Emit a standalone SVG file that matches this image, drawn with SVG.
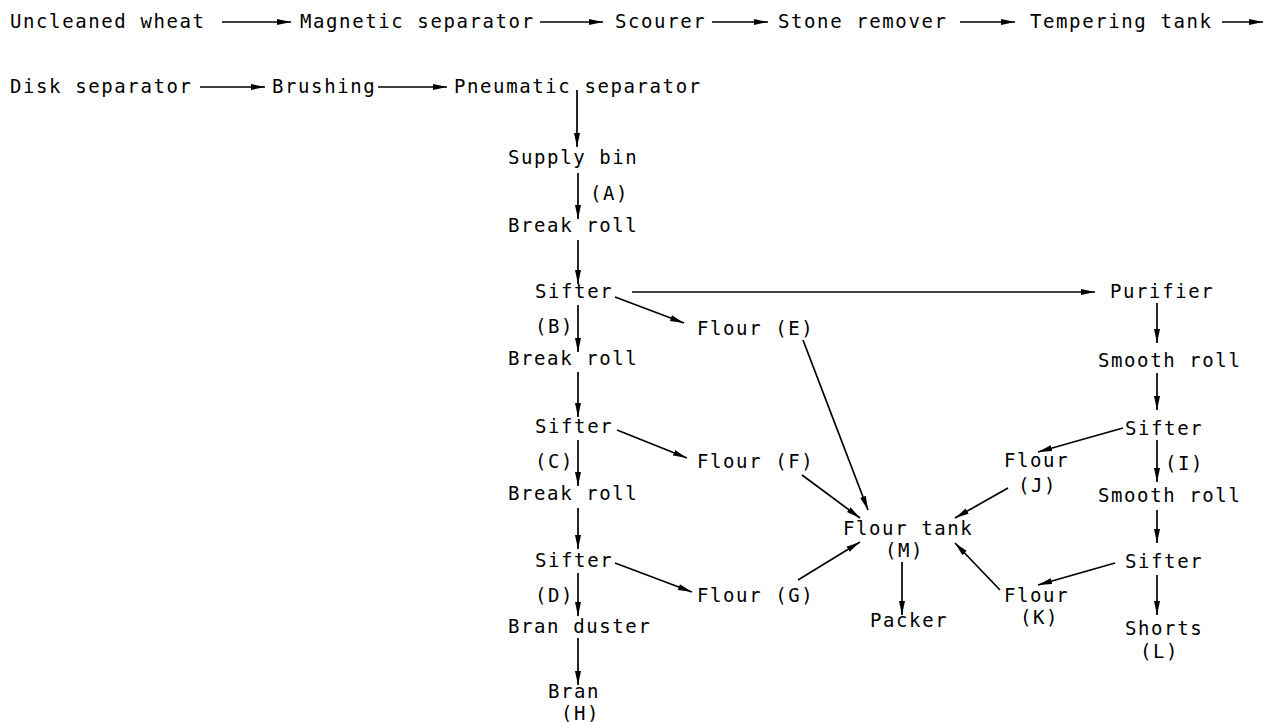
<svg xmlns="http://www.w3.org/2000/svg" width="1270" height="722" viewBox="0 0 1270 722">
<style>
text{font-family:"DejaVu Sans Mono","Liberation Mono",monospace;font-size:19px;letter-spacing:1.6px;fill:#000}
.c line{stroke:#000;stroke-width:1.7;fill:none}
.a{marker-end:url(#ah)}
</style>
<defs>
<marker id="ah" markerUnits="userSpaceOnUse" markerWidth="16" markerHeight="8" refX="14" refY="4" orient="auto">
<path d="M0,1 L14,4 L0,7 z" fill="#000"/>
</marker>
</defs>
<rect width="1270" height="722" fill="#fff"/>
<g id="n-uncleaned"><text x="10" y="28">Uncleaned wheat</text></g>
<g id="n-magnetic"><text x="300" y="28">Magnetic separator</text></g>
<g id="n-scourer"><text x="615" y="28">Scourer</text></g>
<g id="n-stone"><text x="778" y="28">Stone remover</text></g>
<g id="n-tempering"><text x="1030" y="28">Tempering tank</text></g>
<g id="n-disk"><text x="10" y="93">Disk separator</text></g>
<g id="n-brushing"><text x="272" y="93">Brushing</text></g>
<g id="n-pneumatic"><text x="454" y="93">Pneumatic separator</text></g>
<g id="n-supply"><text x="508" y="164">Supply bin</text></g>
<g id="n-break1"><text x="508" y="232">Break roll</text></g>
<g id="n-sifter1"><text x="535" y="298">Sifter</text></g>
<g id="n-break2"><text x="508" y="365">Break roll</text></g>
<g id="n-sifter2"><text x="535" y="433">Sifter</text></g>
<g id="n-break3"><text x="508" y="500">Break roll</text></g>
<g id="n-sifter3"><text x="535" y="567">Sifter</text></g>
<g id="n-branduster"><text x="508" y="633">Bran duster</text></g>
<g id="n-bran"><text x="548" y="698">Bran</text><text x="561" y="720">(H)</text></g>
<g id="n-flourE"><text x="697" y="335">Flour (E)</text></g>
<g id="n-flourF"><text x="697" y="468">Flour (F)</text></g>
<g id="n-flourG"><text x="697" y="602">Flour (G)</text></g>
<g id="n-tank"><text x="843" y="535">Flour tank</text><text x="885" y="557">(M)</text></g>
<g id="n-packer"><text x="870" y="627">Packer</text></g>
<g id="n-purifier"><text x="1110" y="298">Purifier</text></g>
<g id="n-smooth1"><text x="1098" y="367">Smooth roll</text></g>
<g id="n-sifter4"><text x="1125" y="435">Sifter</text></g>
<g id="n-flourJ"><text x="1004" y="467">Flour</text><text x="1018" y="492">(J)</text></g>
<g id="n-smooth2"><text x="1098" y="502">Smooth roll</text></g>
<g id="n-sifter5"><text x="1125" y="568">Sifter</text></g>
<g id="n-flourK"><text x="1004" y="602">Flour</text><text x="1020" y="624">(K)</text></g>
<g id="n-shorts"><text x="1125" y="635">Shorts</text><text x="1140" y="658">(L)</text></g>
<g id="labels">
<text x="590" y="200">(A)</text>
<text x="535" y="333">(B)</text>
<text x="535" y="468">(C)</text>
<text x="535" y="602">(D)</text>
<text x="1165" y="470">(I)</text>
</g>
<g id="connectors" class="c">
<line class="a" x1="222" y1="22" x2="291" y2="22"/>
<line class="a" x1="540" y1="22" x2="603" y2="22"/>
<line class="a" x1="712" y1="22" x2="768" y2="22"/>
<line class="a" x1="960" y1="22" x2="1015" y2="22"/>
<line class="a" x1="1222" y1="22" x2="1263" y2="22"/>
<line class="a" x1="200" y1="87" x2="265" y2="87"/>
<line class="a" x1="378" y1="87" x2="447" y2="87"/>
<line class="a" x1="577" y1="90" x2="577" y2="147"/>
<line class="a" x1="578" y1="173" x2="578" y2="219"/>
<line class="a" x1="578" y1="240" x2="578" y2="284"/>
<line class="a" x1="578" y1="305" x2="578" y2="352"/>
<line class="a" x1="578" y1="372" x2="578" y2="417"/>
<line class="a" x1="578" y1="440" x2="578" y2="486"/>
<line class="a" x1="578" y1="508" x2="578" y2="549"/>
<line class="a" x1="578" y1="573" x2="578" y2="616"/>
<line class="a" x1="578" y1="638" x2="578" y2="685"/>
<line class="a" x1="632" y1="292" x2="1095" y2="292"/>
<line class="a" x1="615" y1="297" x2="684" y2="323"/>
<line class="a" x1="617" y1="430" x2="687" y2="458"/>
<line class="a" x1="615" y1="563" x2="692" y2="592"/>
<line class="a" x1="803" y1="340" x2="868" y2="510"/>
<line class="a" x1="802" y1="475" x2="860" y2="518"/>
<line class="a" x1="798" y1="580" x2="860" y2="542"/>
<line class="a" x1="902" y1="562" x2="902" y2="615"/>
<line class="a" x1="1008" y1="488" x2="955" y2="518"/>
<line class="a" x1="1000" y1="590" x2="955" y2="543"/>
<line class="a" x1="1157" y1="303" x2="1157" y2="343"/>
<line class="a" x1="1157" y1="373" x2="1157" y2="410"/>
<line class="a" x1="1123" y1="428" x2="1038" y2="452"/>
<line class="a" x1="1157" y1="440" x2="1157" y2="482"/>
<line class="a" x1="1157" y1="510" x2="1157" y2="543"/>
<line class="a" x1="1115" y1="563" x2="1038" y2="585"/>
<line class="a" x1="1157" y1="575" x2="1157" y2="615"/>
</g>
</svg>
